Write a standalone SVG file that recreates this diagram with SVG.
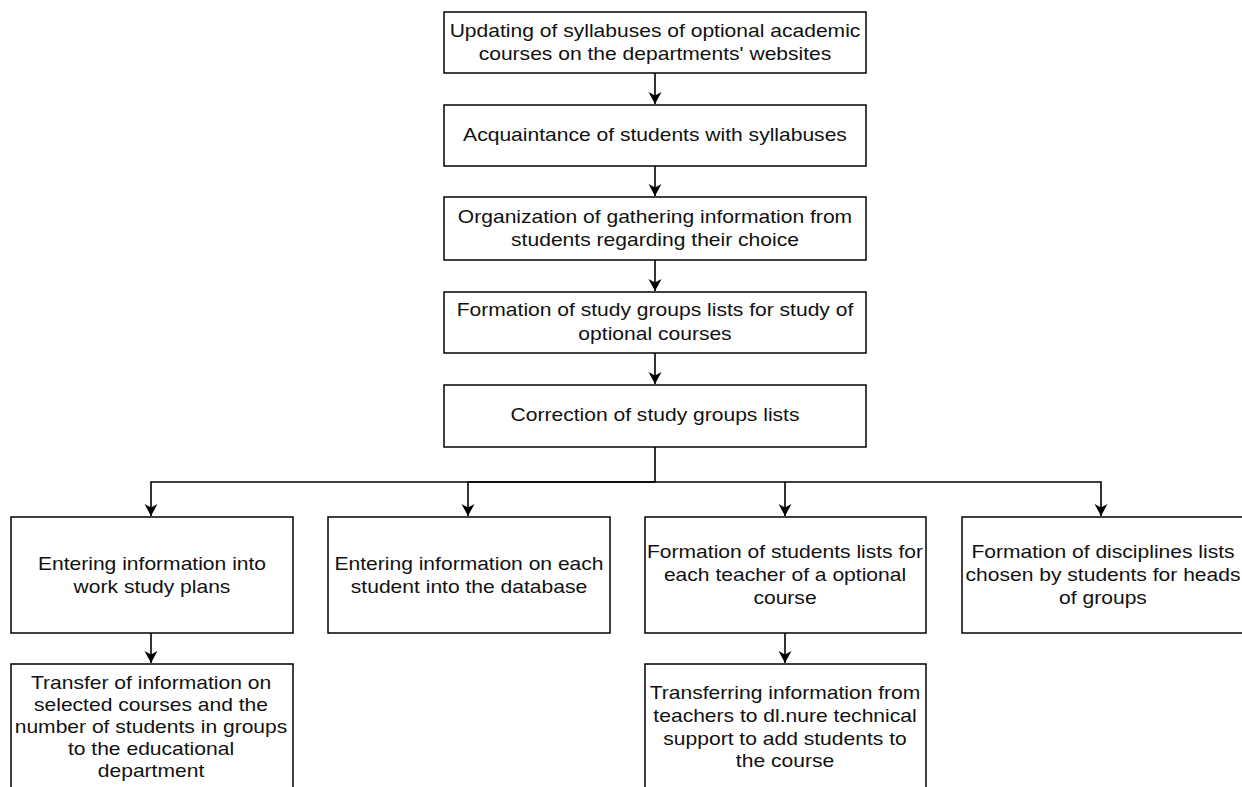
<svg xmlns="http://www.w3.org/2000/svg" width="1242" height="787" viewBox="0 0 1242 787">
<style>
.box{fill:#fff;stroke:#000;stroke-width:1.5}
.t{font-family:"Liberation Sans",Arial,sans-serif;font-size:18px;fill:#111;text-anchor:middle}
.c{fill:none;stroke:#000;stroke-width:1.6}
</style>
<defs>
<marker id="ah" markerWidth="14" markerHeight="14" viewBox="0 0 14 14" refX="12" refY="7" orient="auto" markerUnits="userSpaceOnUse">
<path d="M0,0.5 L12,7 L0,13.5 L3.5,7 Z" fill="#000"/>
</marker>
</defs>
<rect width="1242" height="787" fill="#fff"/>
<g id="connectors">
<path class="c" d="M655,73 V104" marker-end="url(#ah)"/>
<path class="c" d="M655,166 V196" marker-end="url(#ah)"/>
<path class="c" d="M655,260 V291" marker-end="url(#ah)"/>
<path class="c" d="M655,353 V384" marker-end="url(#ah)"/>
<path class="c" d="M655,447 V482 H151 V516" marker-end="url(#ah)"/>
<path class="c" d="M655,482 H468 V516" marker-end="url(#ah)"/>
<path class="c" d="M655,482 H785 V516" marker-end="url(#ah)"/>
<path class="c" d="M785,482 H1101 V516" marker-end="url(#ah)"/>
<path class="c" d="M151,633 V663" marker-end="url(#ah)"/>
<path class="c" d="M785,633 V663" marker-end="url(#ah)"/>
</g>
<g id="n1"><rect class="box" x="444" y="12" width="422" height="61"/>
<text class="t" transform="matrix(1.17 0 0 1 655 0)" y="37">Updating of syllabuses of optional academic</text>
<text class="t" transform="matrix(1.17 0 0 1 655 0)" y="60">courses on the departments' websites</text></g>
<g id="n2"><rect class="box" x="444" y="105" width="422" height="61"/>
<text class="t" transform="matrix(1.17 0 0 1 655 0)" y="141">Acquaintance of students with syllabuses</text></g>
<g id="n3"><rect class="box" x="444" y="197" width="422" height="63"/>
<text class="t" transform="matrix(1.17 0 0 1 655 0)" y="223">Organization of gathering information from</text>
<text class="t" transform="matrix(1.17 0 0 1 655 0)" y="246">students regarding their choice</text></g>
<g id="n4"><rect class="box" x="444" y="292" width="422" height="61"/>
<text class="t" transform="matrix(1.17 0 0 1 655 0)" y="316">Formation of study groups lists for study of</text>
<text class="t" transform="matrix(1.17 0 0 1 655 0)" y="340">optional courses</text></g>
<g id="n5"><rect class="box" x="444" y="385" width="422" height="62"/>
<text class="t" transform="matrix(1.17 0 0 1 655 0)" y="421">Correction of study groups lists</text></g>
<g id="nA"><rect class="box" x="11" y="517" width="282" height="116"/>
<text class="t" transform="matrix(1.17 0 0 1 152 0)" y="570">Entering information into</text>
<text class="t" transform="matrix(1.17 0 0 1 152 0)" y="593">work study plans</text></g>
<g id="nB"><rect class="box" x="328" y="517" width="282" height="116"/>
<text class="t" transform="matrix(1.17 0 0 1 469 0)" y="570">Entering information on each</text>
<text class="t" transform="matrix(1.17 0 0 1 469 0)" y="593">student into the database</text></g>
<g id="nC"><rect class="box" x="645" y="517" width="281" height="116"/>
<text class="t" transform="matrix(1.17 0 0 1 785 0)" y="558">Formation of students lists for</text>
<text class="t" transform="matrix(1.17 0 0 1 785 0)" y="581">each teacher of a optional</text>
<text class="t" transform="matrix(1.17 0 0 1 785 0)" y="604">course</text></g>
<g id="nD"><rect class="box" x="962" y="517" width="282" height="116"/>
<text class="t" transform="matrix(1.17 0 0 1 1103 0)" y="558">Formation of disciplines lists</text>
<text class="t" transform="matrix(1.17 0 0 1 1103 0)" y="581">chosen by students for heads</text>
<text class="t" transform="matrix(1.17 0 0 1 1103 0)" y="604">of groups</text></g>
<g id="nE"><rect class="box" x="11" y="664" width="282" height="130"/>
<text class="t" transform="matrix(1.17 0 0 1 151 0)" y="689">Transfer of information on</text>
<text class="t" transform="matrix(1.17 0 0 1 151 0)" y="711">selected courses and the</text>
<text class="t" transform="matrix(1.17 0 0 1 151 0)" y="733">number of students in groups</text>
<text class="t" transform="matrix(1.17 0 0 1 151 0)" y="755">to the educational</text>
<text class="t" transform="matrix(1.17 0 0 1 151 0)" y="777">department</text></g>
<g id="nF"><rect class="box" x="645" y="664" width="281" height="130"/>
<text class="t" transform="matrix(1.17 0 0 1 785 0)" y="699">Transferring information from</text>
<text class="t" transform="matrix(1.17 0 0 1 785 0)" y="722">teachers to dl.nure technical</text>
<text class="t" transform="matrix(1.17 0 0 1 785 0)" y="745">support to add students to</text>
<text class="t" transform="matrix(1.17 0 0 1 785 0)" y="767">the course</text></g>
</svg>
